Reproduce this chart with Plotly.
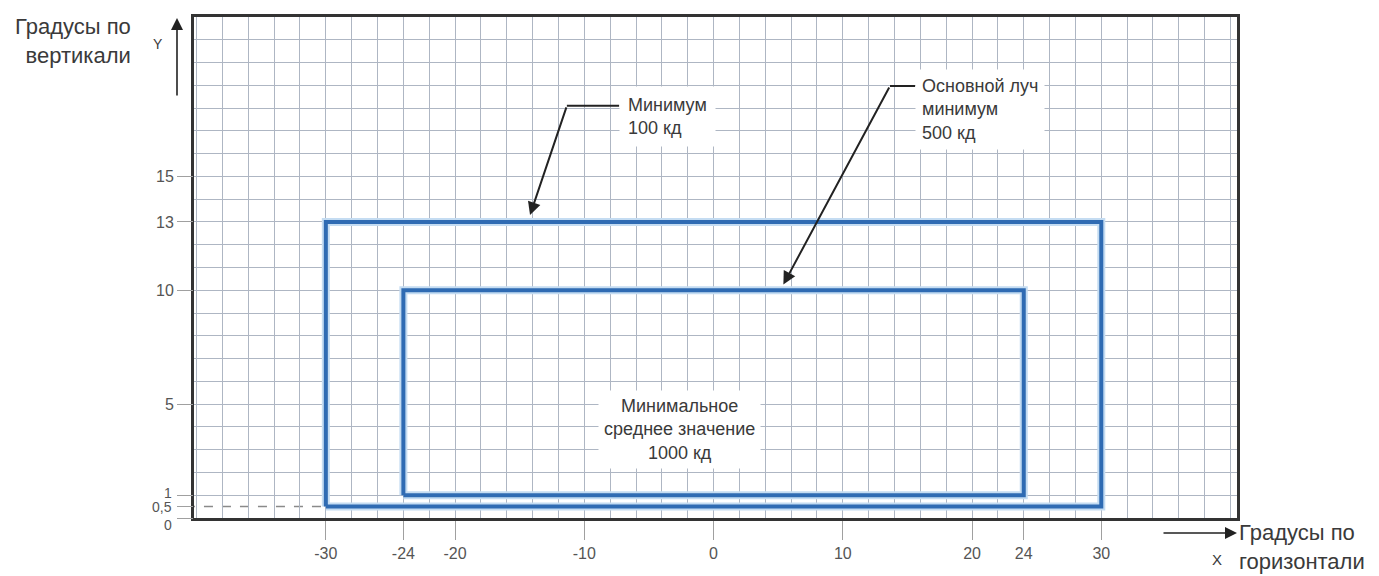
import plotly.graph_objects as go


# -------------------------------------------------
# Data
# -------------------------------------------------

x_ticks = [-30, -24, -20, -10, 0, 10, 20, 24, 30]
x_tick_labels = ["-30", "-24", "-20", "-10", "0", "10", "20", "24", "30"]

y_ticks = [0, 0.5, 1, 5, 10, 13, 15]
y_tick_labels = ["", "", "", "5", "10", "13", "15"]

# the crowded labels near zero are written separately
low_ticks = [0, 0.5, 1]
low_tick_labels = ["0", "0,5", "1"]

# zone limits: [left, right], [bottom, top] in degrees
outer_x = [-30, 30]
outer_y = [0.5, 13]
inner_x = [-24, 24]
inner_y = [1, 10]

outer_label = "Минимум<br>100 кд"
inner_label = "Основной луч<br>минимум<br>500 кд"
center_label = "Минимальное<br>среднее значение<br>1000 кд"
y_title = "Градусы по<br>вертикали"
x_title = "Градусы по<br>горизонтали"

X_RANGE = [-40.2, 40.5]
Y_RANGE = [0, 22]

FONT = "Liberation Sans, Arial, sans-serif"
BLUE = "#2f6bb3"
HALO = "#c4dcf2"
GRID = "#aeb6c3"
TEXT = "#3a3a3a"


def rect_path(xs, ys):
    # closed outline of a rectangle built from its limits
    px = [xs[0], xs[1], xs[1], xs[0], xs[0]]
    py = [ys[0], ys[0], ys[1], ys[1], ys[0]]
    return px, py


fig = go.Figure()

for xs, ys in [(outer_x, outer_y), (inner_x, inner_y)]:
    px, py = rect_path(xs, ys)
    fig.add_trace(go.Scatter(
        x=px, y=py, mode="lines",
        line=dict(color=HALO, width=8),
        hoverinfo="skip", showlegend=False
    ))
    fig.add_trace(go.Scatter(
        x=px, y=py, mode="lines",
        line=dict(color=BLUE, width=4),
        hoverinfo="skip", showlegend=False
    ))

# empty trace so the label axis is drawn
fig.add_trace(go.Scatter(
    x=[0], y=[0], mode="none", yaxis="y2",
    hoverinfo="skip", showlegend=False
))

# dashed guide at the bottom of the outer zone
fig.add_shape(
    type="line", xref="x", yref="y",
    x0=-45, x1=outer_x[0], y0=outer_y[0], y1=outer_y[0],
    line=dict(color="#8a8a8a", width=1.5, dash="dash"),
    layer="below"
)

# labels 0 / 0,5 / 1, staggered like the original
for val, lab, shift in zip(low_ticks, low_tick_labels, [-7, 0, 2]):
    fig.add_annotation(xref="paper", yref="y", x=-0.0195, y=val,
                       text=lab, showarrow=False, xanchor="right",
                       yanchor="middle", yshift=shift,
                       font=dict(family=FONT, size=14, color="#555"))

# -------------------------------------------------
# Callouts
# -------------------------------------------------

# "Минимум 100 кд"
fig.add_shape(type="line", xref="x", yref="y",
              x0=-11.35, x1=-7.3, y0=18.1, y1=18.1,
              line=dict(color="#222", width=2))
fig.add_annotation(x=-14.2, y=13.3, ax=-11.35, ay=18.1,
                   axref="x", ayref="y", text="", showarrow=True,
                   arrowhead=2, arrowsize=1.3, arrowwidth=2,
                   arrowcolor="#222")
fig.add_annotation(x=-7.3, y=17.65, text=outer_label, showarrow=False,
                   xanchor="left", yanchor="middle", align="left",
                   bgcolor="white", borderpad=8,
                   font=dict(family=FONT, size=18, color=TEXT))

# "Основной луч минимум 500 кд"
fig.add_shape(type="line", xref="x", yref="y",
              x0=13.65, x1=15.6, y0=18.97, y1=18.97,
              line=dict(color="#222", width=2))
fig.add_annotation(x=5.4, y=10.25, ax=13.65, ay=18.97,
                   axref="x", ayref="y", text="", showarrow=True,
                   arrowhead=2, arrowsize=1.3, arrowwidth=2,
                   arrowcolor="#222")
fig.add_annotation(x=15.6, y=17.92, text=inner_label, showarrow=False,
                   xanchor="left", yanchor="middle", align="left",
                   bgcolor="white", borderpad=6,
                   font=dict(family=FONT, size=18, color=TEXT))

# centre text
fig.add_annotation(x=-2.67, y=3.9, text=center_label, showarrow=False,
                   xanchor="center", yanchor="middle", align="center",
                   bgcolor="white", borderpad=5,
                   font=dict(family=FONT, size=18, color=TEXT))

# -------------------------------------------------
# Axis titles and arrows
# -------------------------------------------------

fig.add_annotation(xref="paper", yref="paper", x=-0.0585, y=0.952,
                   text=y_title, showarrow=False, xanchor="right",
                   yanchor="middle", align="right",
                   font=dict(family=FONT, size=22, color=TEXT))
fig.add_annotation(xref="paper", yref="paper", x=-0.041, y=0.966,
                   text="Y", showarrow=False,
                   font=dict(family=FONT, size=14, color=TEXT))
fig.add_annotation(xref="paper", yref="paper", x=-0.0163, y=0.998,
                   ax=0, ay=79, text="", showarrow=True,
                   arrowhead=2, arrowsize=1.5, arrowwidth=1.6,
                   arrowcolor="#222")

fig.add_annotation(xref="paper", yref="paper", x=1.0, y=-0.058,
                   text=x_title, showarrow=False, xanchor="left",
                   yanchor="middle", align="left",
                   font=dict(family=FONT, size=22, color=TEXT))
fig.add_annotation(xref="paper", yref="paper", x=0.988, y=-0.104,
                   text="X", showarrow=False,
                   font=dict(family=FONT, size=15, color=TEXT))
fig.add_annotation(xref="paper", yref="paper", x=1.0, y=-0.030,
                   ax=-75, ay=0, text="", showarrow=True,
                   arrowhead=2, arrowsize=1.5, arrowwidth=1.6,
                   arrowcolor="#222")

# -------------------------------------------------
# Layout
# (page body has an 8px margin, so the figure is 8px smaller
#  and the margins are shifted to keep the plot in place)
# -------------------------------------------------

fig.update_layout(
    width=1371,
    height=568,
    margin=dict(l=186, r=142, t=9, b=58),
    paper_bgcolor="white",
    plot_bgcolor="white",
    font=dict(family=FONT, size=16, color="#555"),
    showlegend=False,
    xaxis=dict(
        range=X_RANGE,
        tickmode="array",
        tickvals=x_ticks,
        ticktext=x_tick_labels,
        ticks="outside",
        ticklen=19,
        tickcolor="#a0a0a0",
        tickfont=dict(size=16, color="#555"),
        showgrid=True,
        gridcolor=GRID,
        gridwidth=1,
        minor=dict(tickmode="linear", tick0=0, dtick=2,
                   showgrid=True, gridcolor=GRID, gridwidth=1, ticks=""),
        zeroline=False,
        showline=True,
        linecolor="#333",
        linewidth=2.5,
        mirror=True,
        automargin=False,
        fixedrange=True
    ),
    yaxis=dict(
        range=Y_RANGE,
        tickmode="linear",
        tick0=0,
        dtick=1,
        showticklabels=False,
        ticks="",
        showgrid=True,
        gridcolor=GRID,
        gridwidth=1,
        zeroline=False,
        showline=True,
        linecolor="#333",
        linewidth=2.5,
        mirror=True,
        automargin=False,
        fixedrange=True
    ),
    yaxis2=dict(
        range=Y_RANGE,
        overlaying="y",
        side="left",
        tickmode="array",
        tickvals=y_ticks,
        ticktext=y_tick_labels,
        ticks="outside",
        ticklen=16,
        tickcolor="#a0a0a0",
        tickfont=dict(size=16, color="#555"),
        showgrid=False,
        zeroline=False,
        showline=False,
        automargin=False,
        fixedrange=True
    )
)

fig.write_html("out.html")
